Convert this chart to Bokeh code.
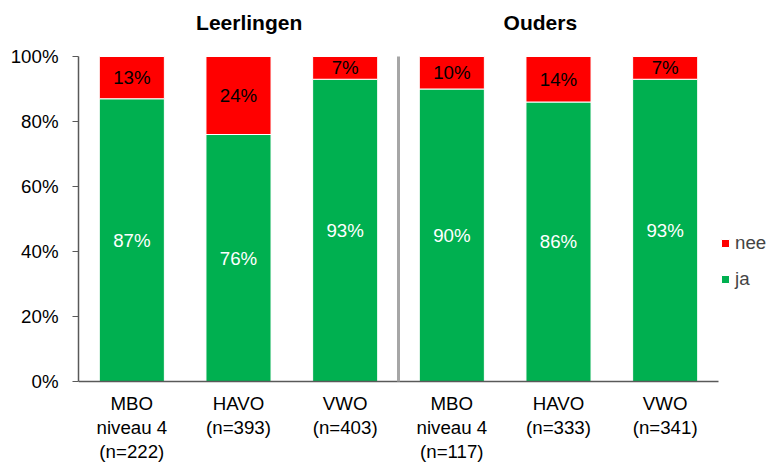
from bokeh.plotting import figure
from bokeh.models import ColumnDataSource, FixedTicker, Legend, LegendItem
from bokeh.core.properties import value
from bokeh.embed import file_html
from bokeh.resources import INLINE

categories = ["MBO\nniveau 4\n(n=222)", "HAVO\n(n=393)", "VWO\n(n=403)",
              "MBO\nniveau 4\n(n=117)", "HAVO\n(n=333)", "VWO\n(n=341)"]
groups = ["Leerlingen", "Ouders"]
ja = [87, 76, 93, 90, 86, 93]
nee = [13, 24, 7, 10, 14, 7]
y_ticks = [0, 20, 40, 60, 80, 100]

FONT = "Liberation Sans"
FS = "18.7px"
RED = "#FF0000"
GREEN = "#00B050"
AXIS = "#595959"

W, H = 770, 465
LEFT = 78
Y0_PX, Y100_PX = 381, 56
ppu = (Y0_PX - Y100_PX) / 100.0
y_start = -(H - Y0_PX) / ppu
y_end = 100 + Y100_PX / ppu
n = len(categories)
x_end = (W - LEFT) / ((718 - LEFT) / n)

xs = [i + 0.5 for i in range(n)]
src = ColumnDataSource(dict(
    x=xs,
    ja=ja,
    nee=nee,
    top_nee=[a + b for a, b in zip(ja, nee)],
    ja_mid=[a / 2 for a in ja],
    nee_mid=[a + b / 2 for a, b in zip(ja, nee)],
    ja_lbl=[f"{v}%" for v in ja],
    nee_lbl=[f"{v}%" for v in nee],
    cat=categories,
    zero=[0] * n,
))

p = figure(width=W, height=H, output_backend="svg", toolbar_location=None,
           x_range=(0, x_end), y_range=(y_start, y_end),
           min_border_left=LEFT, min_border_right=0, min_border_top=0, min_border_bottom=0)
p.outline_line_color = None
p.grid.grid_line_color = None
p.xaxis.visible = False
p.background_fill_color = "white"
p.border_fill_color = "white"

r_ja = p.vbar(x="x", bottom=0, top="ja", width=0.61, source=src,
              fill_color=GREEN, line_color="white", line_width=1)
r_nee = p.vbar(x="x", bottom="ja", top="top_nee", width=0.61, source=src,
               fill_color=RED, line_color="white", line_width=1)

p.text(x="x", y="ja_mid", text="ja_lbl", source=src, text_align="center",
       text_baseline="middle", text_color="white", text_font=value(FONT),
       text_font_size=FS)
p.text(x="x", y="nee_mid", text="nee_lbl", source=src, text_align="center",
       text_baseline="middle", text_color="black", text_font=value(FONT),
       text_font_size=FS)

# x axis line and category labels
p.segment(x0=0, y0=0, x1=n, y1=0, line_color=AXIS, line_width=1.5)
p.text(x="x", y="zero", text="cat", source=src, text_align="center",
       text_baseline="top", y_offset=11, text_line_height=1.15,
       text_color="black", text_font=value(FONT), text_font_size=FS)

# group separator
per = n // len(groups)
for k in range(1, len(groups)):
    p.segment(x0=k * per, y0=0, x1=k * per, y1=100, line_color="#A6A6A6", line_width=3)

# group titles
gx = [1.6, 4.33]
p.text(x=gx, y=[(Y0_PX - 22) / ppu] * len(groups), text=groups, text_align="center",
       text_baseline="middle", text_font=value(FONT), text_font_size="21px",
       text_font_style="bold", text_color="black")

# y axis
ya = p.yaxis[0]
ya.bounds = (0, 100)
ya.ticker = FixedTicker(ticks=y_ticks)
ya.major_label_overrides = {t: f"{t}%" for t in y_ticks}
ya.minor_tick_line_color = None
ya.major_tick_in = 0
ya.major_tick_out = 6
ya.axis_line_color = AXIS
ya.major_tick_line_color = AXIS
ya.axis_line_width = 1.5
ya.major_label_text_font = FONT
ya.major_label_text_font_size = FS
ya.major_label_text_color = "black"
ya.major_label_standoff = 14

legend = Legend(items=[LegendItem(label="nee", renderers=[r_nee]),
                       LegendItem(label="ja", renderers=[r_ja])],
                location=(642, 175), orientation="vertical",
                label_text_font=FONT, label_text_font_size=FS,
                glyph_width=10, glyph_height=10, spacing=14, padding=0, margin=0,
                label_standoff=5, border_line_color=None, background_fill_alpha=0)
p.add_layout(legend, "center")

open("out.html", "w").write(file_html(p, INLINE))
